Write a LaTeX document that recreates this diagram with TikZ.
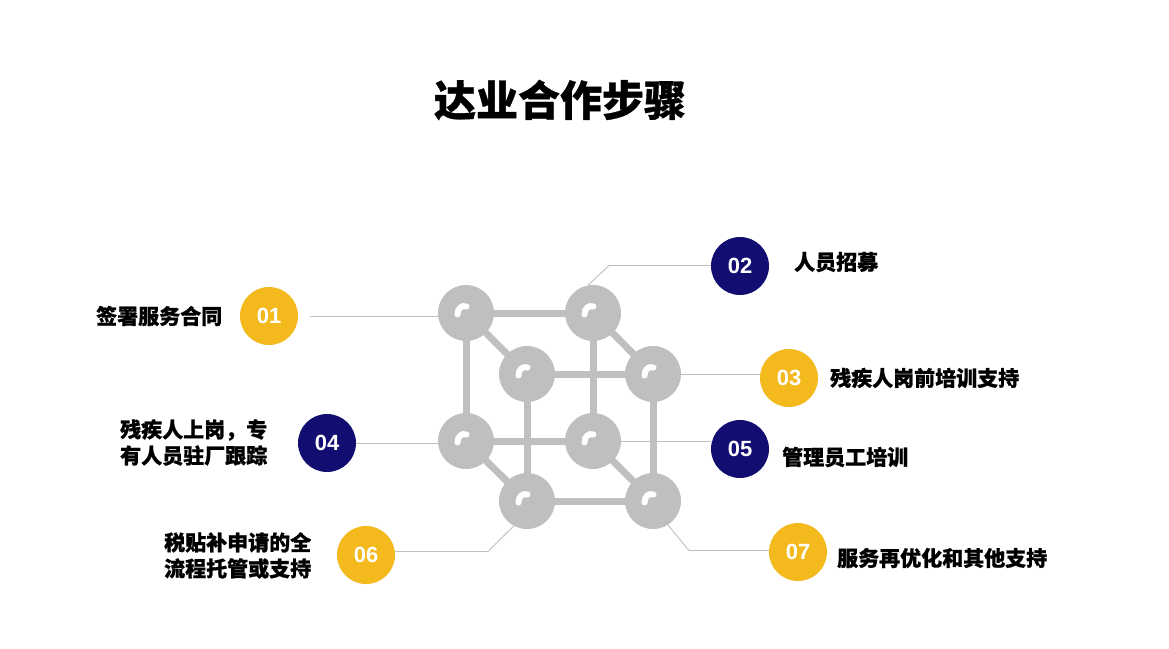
\documentclass[tikz,border=0pt]{standalone}
\usepackage{fontspec}
\setmainfont{Liberation Sans}
\newfontfamily\cjk{Noto Sans CJK SC}[BoldFeatures={FakeBold=0.8}]
\begin{document}
\begin{tikzpicture}[x=1pt,y=-1pt,
  sph/.style={circle,fill=sgray,minimum size=56pt,inner sep=0pt},
  rod/.style={draw=sgray,line width=7pt},
  hl/.style={draw=white,line width=6pt,line cap=round},
  conn/.style={draw=sgray,line width=0.9pt},
  numy/.style={circle,fill=myyellow,minimum size=58pt,inner sep=0pt,text=white,font=\bfseries\fontsize{22}{26}\selectfont},
  numn/.style={numy,fill=mynavy},
  lab/.style={inner sep=0pt,font=\cjk\bfseries\fontsize{21}{26}\selectfont,align=left},
]
\definecolor{sgray}{HTML}{BFBFBF}
\definecolor{myyellow}{HTML}{F4B91C}
\definecolor{mynavy}{HTML}{120D70}
\useasboundingbox[fill=white] (0,0) rectangle (1169,648);
% title
\node[inner sep=0pt,font=\cjk\bfseries\fontsize{42}{50}\selectfont] (title) at (560,100) {达业合作步骤};
% sphere positions
\coordinate (TLb) at (466,313);
\coordinate (TRb) at (593,313);
\coordinate (TLf) at (527,374);
\coordinate (TRf) at (653,374);
\coordinate (BLb) at (466,441);
\coordinate (BRb) at (593,441);
\coordinate (BLf) at (527,501);
\coordinate (BRf) at (653,501);
% rods
\draw[rod] (TLb) -- (TRb) -- (BRb) -- (BLb) -- cycle;
\draw[rod] (TLf) -- (TRf) -- (BRf) -- (BLf) -- cycle;
\draw[rod] (TLb) -- (TLf);
\draw[rod] (TRb) -- (TRf);
\draw[rod] (BLb) -- (BLf);
\draw[rod] (BRb) -- (BRf);
% spheres
\foreach \n in {TLb,TRb,TLf,TRf,BLb,BRb,BLf,BRf}{
  \node[sph] (s\n) at (\n) {};
  \draw[hl] ([shift={(-8.5,1.5)}]\n) .. controls ([shift={(-8.5,-5)}]\n) and ([shift={(-4,-8)}]\n) .. ([shift={(0.5,-6.5)}]\n);
}
% number circles
\node[numy] (c1) at (269,316) {01};
\node[numn] (c2) at (740,266) {02};
\node[numy] (c3) at (789,378) {03};
\node[numn] (c4) at (327,443) {04};
\node[numn] (c5) at (740,449) {05};
\node[numy] (c6) at (366,555) {06};
\node[numy] (c7) at (798,552) {07};
% connectors
\coordinate (k1) at (439,316);
\coordinate (k2) at (609,265.5);
\coordinate (k6) at (488,551.5);
\coordinate (k7) at (689,550.5);
\draw[conn] ([xshift=12pt]c1.east) -- (k1);
\draw[conn] (c2.west |- k2) -- (k2) -- (sTRb.100);
\draw[conn] (sTRf.east) -- (c3.west |- sTRf.east);
\draw[conn] (c4.east) -- (c4.east -| sBLb.west);
\draw[conn] (sBRb.east) -- (sBRb.east -| c5.west);
\draw[conn] (c6.east |- k6) -- (k6) -- (sBLf.242);
\draw[conn] (sBRf.302) -- (k7) -- (k7 -| c7.west);
% labels
\node[lab,anchor=west] (t1) at (96,316) {签署服务合同};
\node[lab,anchor=west] (t2) at (794,262) {人员招募};
\node[lab,anchor=west] (t3) at (830,378) {残疾人岗前培训支持};
\node[lab,anchor=west] (t4) at (120,442.5) {残疾人上岗，专\\有人员驻厂跟踪};
\node[lab,anchor=west] (t5) at (782,457) {管理员工培训};
\node[lab,anchor=west] (t6) at (164,555.5) {税贴补申请的全\\流程托管或支持};
\node[lab,anchor=west] (t7) at (837,558) {服务再优化和其他支持};
\end{tikzpicture}
\end{document}
